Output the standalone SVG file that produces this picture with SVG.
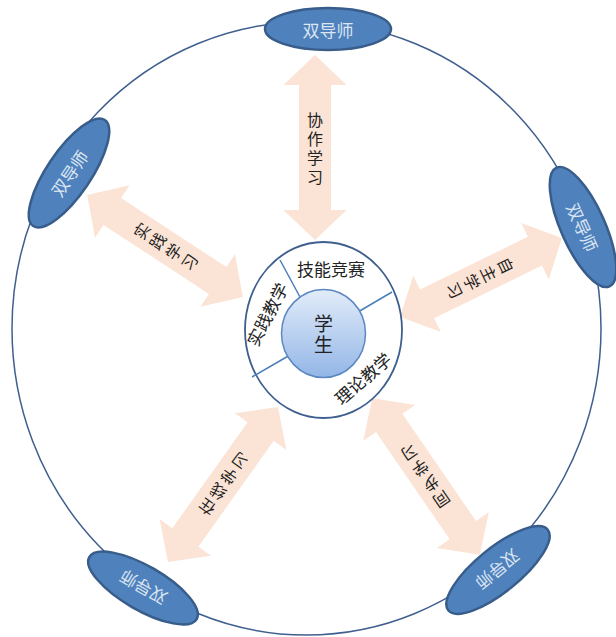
<svg xmlns="http://www.w3.org/2000/svg" width="616" height="637" viewBox="0 0 616 637">
<style>
.arrow{fill:#FBE4D5;}
.atxt{font-family:"Noto Sans CJK SC","Liberation Sans",sans-serif;font-size:16px;fill:#222;text-anchor:middle;dominant-baseline:central;}
.tnode ellipse{fill:#4F81BD;stroke:#385D8A;stroke-width:2.5;}
.ttxt{font-family:"Noto Sans CJK SC","Liberation Sans",sans-serif;font-size:17px;fill:#DCE6F2;text-anchor:middle;dominant-baseline:central;}
.lbl{font-family:"Noto Sans CJK SC","Liberation Sans",sans-serif;font-size:17px;fill:#222;text-anchor:middle;dominant-baseline:central;}
.div{stroke:#4A7EBB;stroke-width:1.5;}
</style>
<defs>
<linearGradient id="stu" x1="0" y1="0" x2="0" y2="1">
<stop offset="0" stop-color="#E2ECFA"/>
<stop offset="1" stop-color="#93B6E6"/>
</linearGradient>
</defs>
<rect width="616" height="637" fill="#FFFFFF"/>
<ellipse id="outer" cx="306.5" cy="328.5" rx="294.5" ry="306.5" fill="none" stroke="#3F5F8F" stroke-width="1.5"/>

<g id="connectors">
<g transform="translate(315,147.5)">
<path class="arrow" d="M0,-92.5 L31.5,-62.5 L16,-62.5 L16,62.5 L31.5,62.5 L0,92.5 L-31.5,62.5 L-16,62.5 L-16,-62.5 L-31.5,-62.5 Z"/>
<text class="atxt" x="0" y="-28.5">协</text><text class="atxt" x="0" y="-9.5">作</text><text class="atxt" x="0" y="9.5">学</text><text class="atxt" x="0" y="28.5">习</text>
</g>
<g transform="translate(165,246) rotate(-56.8)">
<path class="arrow" d="M0,-93 L31.5,-63 L16,-63 L16,63 L31.5,63 L0,93 L-31.5,63 L-16,63 L-16,-63 L-31.5,-63 Z"/>
<text class="atxt" x="0" y="-28.5">实</text><text class="atxt" x="0" y="-9.5">践</text><text class="atxt" x="0" y="9.5">学</text><text class="atxt" x="0" y="28.5">习</text>
</g>
<g transform="translate(481,277.5) rotate(64)">
<path class="arrow" d="M0,-90 L31.5,-60 L16,-60 L16,60 L31.5,60 L0,90 L-31.5,60 L-16,60 L-16,-60 L-31.5,-60 Z"/>
<text class="atxt" x="0" y="-28.5">自</text><text class="atxt" x="0" y="-9.5">主</text><text class="atxt" x="0" y="9.5">学</text><text class="atxt" x="0" y="28.5">习</text>
</g>
<g transform="translate(223,484.5) rotate(-144.6)">
<path class="arrow" d="M0,-95 L31.5,-65 L16,-65 L16,65 L31.5,65 L0,95 L-31.5,65 L-16,65 L-16,-65 L-31.5,-65 Z"/>
<text class="atxt" x="0" y="-28.5">在</text><text class="atxt" x="0" y="-9.5">线</text><text class="atxt" x="0" y="9.5">学</text><text class="atxt" x="0" y="28.5">习</text>
</g>
<g transform="translate(426,476.5) rotate(145.5)">
<path class="arrow" d="M0,-95 L31.5,-65 L16,-65 L16,65 L31.5,65 L0,95 L-31.5,65 L-16,65 L-16,-65 L-31.5,-65 Z"/>
<text class="atxt" x="0" y="-28.5">同</text><text class="atxt" x="0" y="-9.5">步</text><text class="atxt" x="0" y="9.5">学</text><text class="atxt" x="0" y="28.5">习</text>
</g>
</g>

<g id="teacher-top" class="tnode" transform="translate(328,29)">
<ellipse rx="63" ry="21"/><text class="ttxt" x="0" y="0">双导师</text>
</g>
<g id="teacher-left" class="tnode" transform="translate(69,173) rotate(-56)">
<ellipse rx="64" ry="22"/><text class="ttxt" x="0" y="0">双导师</text>
</g>
<g id="teacher-right" class="tnode" transform="translate(583,227) rotate(66)">
<ellipse rx="65" ry="22"/><text class="ttxt" x="0" y="0">双导师</text>
</g>
<g id="teacher-bottom-left" class="tnode" transform="translate(143,588) rotate(210)">
<ellipse rx="62" ry="22"/><text class="ttxt" x="0" y="0">双导师</text>
</g>
<g id="teacher-bottom-right" class="tnode" transform="translate(498,570) rotate(141)">
<ellipse rx="64" ry="22"/><text class="ttxt" x="0" y="0">双导师</text>
</g>

<g id="ring">
<ellipse cx="323.5" cy="330" rx="78.5" ry="88" fill="#FFFFFF" stroke="#3F5F8F" stroke-width="1.8"/>
<line class="div" x1="280" y1="260" x2="300" y2="297"/>
<line class="div" x1="358" y1="312" x2="392" y2="292"/>
<line class="div" x1="252" y1="377" x2="290" y2="355"/>
<text class="lbl" x="331" y="268">技能竞赛</text>
<text class="lbl" transform="translate(266.5,314) rotate(-62.6)">实践教学</text>
<text class="lbl" transform="translate(362.5,378) rotate(-41)">理论教学</text>
</g>

<g id="student">
<ellipse cx="323.5" cy="333.5" rx="42" ry="44" fill="url(#stu)" stroke="#5B87C2" stroke-width="1.5"/>
<text class="lbl" x="323.5" y="322" style="font-size:19px">学</text>
<text class="lbl" x="323.5" y="343" style="font-size:19px">生</text>
</g>
</svg>
